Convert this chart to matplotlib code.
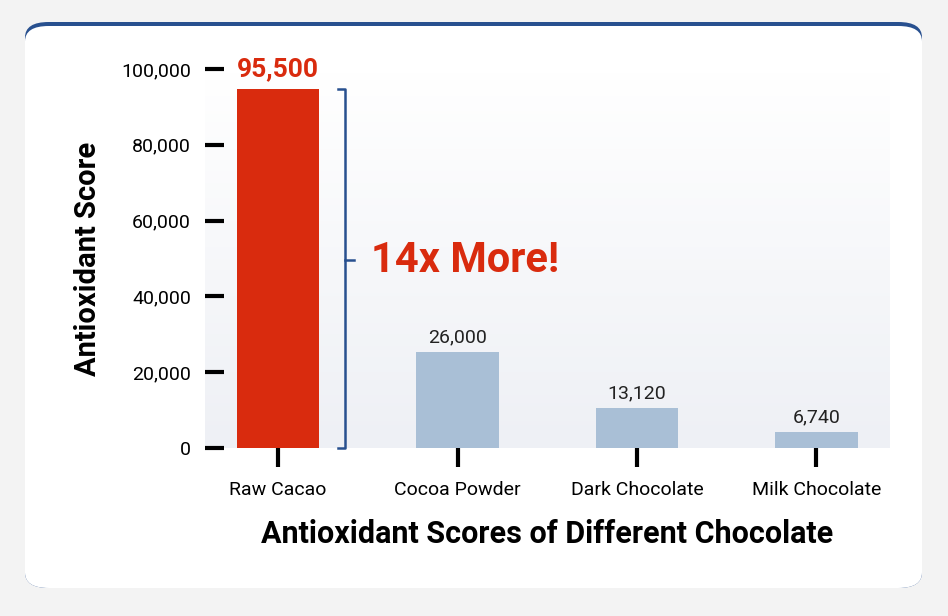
import numpy as np
import matplotlib.pyplot as plt
from matplotlib.patches import FancyBboxPatch
from matplotlib.colors import LinearSegmentedColormap

categories = ["Raw Cacao", "Cocoa Powder", "Dark Chocolate", "Milk Chocolate"]
bar_heights = [94700, 25300, 10550, 4220]
bar_labels = ["95,500", "26,000", "13,120", "6,740"]
yticks = [0, 20000, 40000, 60000, 80000, 100000]

red = "#d92b0e"
blue = "#a9bfd6"
navy = "#28508f"

fig = plt.figure(figsize=(9.48, 6.16), dpi=100)
fig.patch.set_facecolor("#f3f3f3")

# card behind the axes
card_bg = FancyBboxPatch((25 / 948, 28 / 616), 897 / 948, 566 / 616,
                         boxstyle="round,pad=0,rounding_size=0.025",
                         transform=fig.transFigure, facecolor=navy, edgecolor="none",
                         zorder=-10)
card = FancyBboxPatch((25 / 948, 28 / 616), 897 / 948, 562 / 616,
                      boxstyle="round,pad=0,rounding_size=0.025",
                      transform=fig.transFigure, facecolor="white", edgecolor="none",
                      zorder=-9)
fig.patches.extend([card_bg, card])

ax = fig.add_axes([205 / 948, 1 - 448 / 616, 685 / 948, 379 / 616])
ax.set_zorder(5)
ax.set_xlim(-0.407, 3.41)
ax.set_ylim(0, 100000)
ax.patch.set_alpha(0)

# soft gradient background
grad = np.linspace(0, 1, 100).reshape(-1, 1)
ax.imshow(grad, extent=(-0.407, 3.41, 0, 100000), aspect="auto", origin="lower",
          cmap=LinearSegmentedColormap.from_list("g", ["#eef0f5", "#ffffff"]), zorder=0)

x = np.arange(len(categories))
colors = [red] + [blue] * 3
ax.bar(x, bar_heights, width=0.46, color=colors, zorder=2)

for i, (h, lab) in enumerate(zip(bar_heights, bar_labels)):
    if i == 0:
        ax.text(i, h + 2200, lab, ha="center", va="bottom", color=red,
                fontsize=19, fontweight="bold", family="Roboto", clip_on=False)
    else:
        ax.text(i, h + 1500, lab, ha="center", va="bottom", color="#222222",
                fontsize=14, family="Roboto")

# bracket
bx = 0.374
ax.plot([bx - 0.04, bx, bx, bx - 0.04], [bar_heights[0], bar_heights[0], 0, 0],
        color=navy, lw=1.8, zorder=3, clip_on=False)
ax.plot([bx, bx + 0.05], [49600, 49600], color=navy, lw=1.8, clip_on=False)
ax.text(0.52, 49600, "14x More!", color=red, fontsize=30, fontweight="bold",
        family="Roboto", va="center", ha="left")

for s in ax.spines.values():
    s.set_visible(False)
ax.set_yticks(yticks)
ax.set_yticklabels([f"{v:,}" for v in yticks], fontsize=14, family="Roboto")
ax.set_xticks(x)
ax.set_xticklabels(categories, fontsize=14, family="Roboto")
ax.tick_params(axis="y", length=14, width=3, pad=10, direction="in", color="black")
ax.tick_params(axis="x", length=14, width=3, pad=10, direction="out", color="black")
ax.set_ylabel("Antioxidant Score", fontsize=21, fontweight="bold", family="Roboto", labelpad=14)
ax.set_xlabel("Antioxidant Scores of Different Chocolate", fontsize=22,
              fontweight="bold", family="Roboto", labelpad=14)

fig.savefig("out.png", dpi=100, facecolor=fig.get_facecolor())
